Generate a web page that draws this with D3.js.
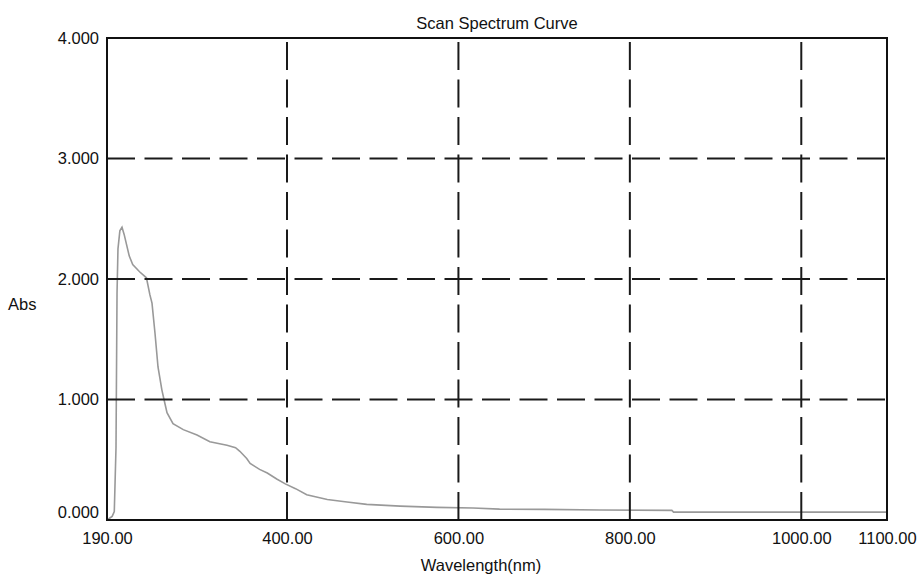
<!DOCTYPE html>
<html>
<head>
<meta charset="utf-8">
<script src="https://d3js.org/d3.v7.min.js"></script>
<style>
    body { margin: 0; background: #fff; }
    svg { display: block; font-family: "Liberation Sans", Arial, sans-serif; }
    text { fill: #111; }
</style>
</head>
<body>
<svg id="chart" width="920" height="577"></svg>
<script>
    // spectrum
    var wavelength = [190, 196, 198.5, 200.5, 201.7, 202.8, 205, 207.5, 210, 216, 220, 228, 236, 240,
        242.5, 246, 249.5, 254, 256.5, 260, 267, 279, 295, 310, 330, 340, 345, 353, 357, 368, 377,
        388, 398, 410, 423, 447, 470, 493, 532, 575, 617, 648, 700, 765, 849, 851, 950, 1100];
    var absorbance = [0.0, 0.03, 0.07, 0.6, 1.88, 2.25, 2.40, 2.43, 2.37, 2.19, 2.12, 2.06, 2.01, 1.87,
        1.80, 1.55, 1.27, 1.08, 1.0, 0.89, 0.80, 0.75, 0.705, 0.65, 0.62, 0.60, 0.57, 0.51, 0.47, 0.42, 0.39,
        0.34, 0.30, 0.26, 0.21, 0.17, 0.15, 0.13, 0.115, 0.105, 0.10, 0.09, 0.088, 0.083, 0.08, 0.065, 0.065, 0.065];

    var xTicks = [190, 400, 600, 800, 1000, 1100];
    var yTicks = [0, 1, 2, 3, 4];
    var xGrid = [400, 600, 800, 1000];
    var yGrid = [1, 2, 3];

    // NOTE: "top" is taken by window.top, so use other names
    var plotLeft = 107, plotRight = 887, plotTop = 38, plotBottom = 520;
    var fontSize = 16.5;

    var x = d3.scaleLinear().domain([190, 1100]).range([plotLeft, plotRight]);
    var y = d3.scaleLinear().domain([0, 4]).range([plotBottom, plotTop]);

    var svg = d3.select('#chart');

    var data = wavelength.map(function(w, i) {
        return { w: w, a: absorbance[i] };
    });

    // curve
    var line = d3.line()
        .x(function(d) { return x(d.w); })
        .y(function(d) { return y(d.a); });

    svg.append('path')
        .datum(data)
        .attr('d', line)
        .attr('fill', 'none')
        .attr('stroke', '#999')
        .attr('stroke-width', 1.6);

    // dashed grid, drawn over the curve
    svg.selectAll('line.hgrid')
        .data(yGrid)
        .enter()
        .append('line')
        .classed('hgrid', true)
        .attr('x1', plotLeft).attr('x2', plotRight)
        .attr('y1', function(d) { return y(d); })
        .attr('y2', function(d) { return y(d); })
        .attr('stroke', '#1a1a1a')
        .attr('stroke-width', 2)
        .attr('stroke-dasharray', '28,9.5');

    // vertical dashes start at the bottom
    svg.selectAll('line.vgrid')
        .data(xGrid)
        .enter()
        .append('line')
        .classed('vgrid', true)
        .attr('x1', function(d) { return x(d); })
        .attr('x2', function(d) { return x(d); })
        .attr('y1', plotBottom).attr('y2', plotTop)
        .attr('stroke', '#1a1a1a')
        .attr('stroke-width', 2)
        .attr('stroke-dasharray', '28,9.5');

    svg.append('rect')
        .attr('x', plotLeft).attr('y', plotTop)
        .attr('width', plotRight - plotLeft).attr('height', plotBottom - plotTop)
        .attr('fill', 'none')
        .attr('stroke', '#111')
        .attr('stroke-width', 2);

    // axes (labels only)
    var xAxis = d3.axisBottom(x)
        .tickValues(xTicks)
        .tickFormat(d3.format('.2f'))
        .tickSize(0)
        .tickPadding(12);

    var gx = svg.append('g')
        .attr('transform', 'translate(0,' + plotBottom + ')')
        .call(xAxis);
    gx.select('.domain').remove();

    var yAxis = d3.axisLeft(y)
        .tickValues(yTicks)
        .tickFormat(d3.format('.3f'))
        .tickSize(0)
        .tickPadding(8);

    var gy = svg.append('g')
        .attr('transform', 'translate(' + plotLeft + ',0)')
        .call(yAxis);
    gy.select('.domain').remove();
    // bottom label sits a bit above the axis line
    gy.selectAll('.tick')
        .filter(function(d) { return d === 0; })
        .select('text')
        .attr('dy', '-0.15em');

    svg.selectAll('.tick text')
        .attr('font-family', '"Liberation Sans", Arial, sans-serif')
        .attr('font-size', fontSize)
        .attr('fill', '#111');

    svg.append('text')
        .attr('x', (plotLeft + plotRight) / 2)
        .attr('y', 29)
        .attr('text-anchor', 'middle')
        .attr('font-size', fontSize)
        .text('Scan Spectrum Curve');

    svg.append('text')
        .attr('x', 8)
        .attr('y', 310)
        .attr('font-size', fontSize)
        .text('Abs');

    svg.append('text')
        .attr('x', 481)
        .attr('y', 571)
        .attr('text-anchor', 'middle')
        .attr('font-size', fontSize)
        .text('Wavelength(nm)');
</script>
</body>
</html>
